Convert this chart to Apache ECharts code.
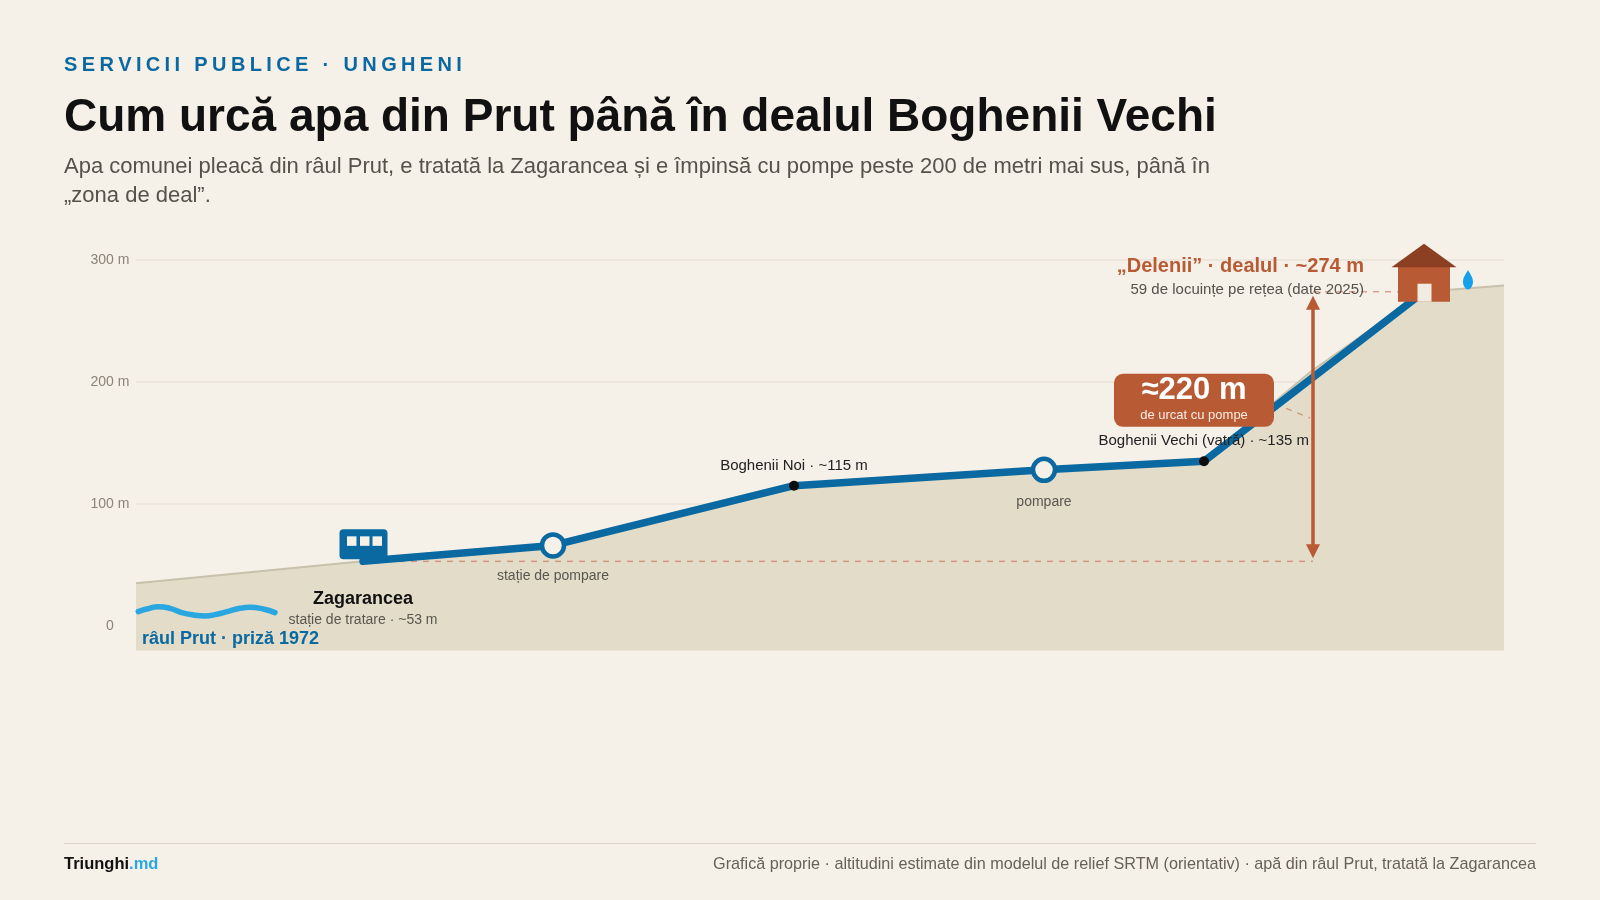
<!DOCTYPE html>
<html lang="ro"><head><meta charset="utf-8">
<style>html,body{margin:0;padding:0;background:#f5f0e8}#c{width:1600px;height:900px}</style>
<script src="https://cdn.jsdelivr.net/npm/echarts@6/dist/echarts.min.js"></script>
</head><body><div id="c"></div>
<script>
// distance along the profile (chart units) and altitude (m)
const terrainX   = [0, 227, 417, 658, 908, 1068, 1174, 1211, 1288, 1368];
const terrainAlt = [35, 53, 66, 115, 128, 135, 208, 229.5, 274, 279];
const pipeX      = [227, 417, 658, 908, 1068, 1288];
const pipeAlt    = [53, 66, 115, 128, 135, 274];
const pumpX      = [417, 908];
const pumpAlt    = [66, 128];
const villageX   = [658, 1068];
const villageAlt = [115, 135];
const riverX     = [2.3, 10.7, 22.3, 34, 45.7, 57.3, 69, 80.7, 92.3, 104, 114, 127.3, 139];
const riverAlt   = [11.8, 13.9, 15.8, 14.5, 11, 9, 8.2, 9.6, 12, 14.5, 15.3, 13.9, 11];
const climbX = 1177, baseAlt = 53, topAlt = 274;
const yTicks = [0, 100, 200, 300];

const KICKER = 'SERVICII PUBLICE · UNGHENI';
const TITLE = 'Cum urcă apa din Prut până în dealul Boghenii Vechi';
const SUB1 = 'Apa comunei pleacă din râul Prut, e tratată la Zagarancea și e împinsă cu pompe peste 200 de metri mai sus, până în';
const SUB2 = '„zona de deal”.';
const SOURCE = 'Grafică proprie · altitudini estimate din modelul de relief SRTM (orientativ) · apă din râul Prut, tratată la Zagarancea';

const FONT = '"Liberation Sans", Arial, sans-serif';
const BG='#f5f0e8', BLUE='#0a69a0', SKY='#2aa7e1', RUST='#b85a33', ROOF='#8c4023', LAND='#e2dcc9', LANDL='#c8c1ab';
const zip=(a,b)=>a.map((v,i)=>[v,b[i]]);
const chart = echarts.init(document.getElementById('c'));

const txt=(text,x,y,o)=>({type:'text',x,y,silent:true,style:Object.assign({text,fontFamily:FONT,verticalAlign:'middle'},o)});
function dashSeries(data){return {type:'line',data,symbol:'none',silent:true,z:2,animation:false,
  lineStyle:{color:'#c96a50',width:1.5,type:[6,6],opacity:.6}};}

function renderArrow(p,api){
  const a=api.coord([climbX,topAlt]), b=api.coord([climbX,baseAlt]);
  const x=a[0], t=a[1]+4, e=b[1]-3;
  return {type:'group',children:[
    {type:'line',shape:{x1:x,y1:t+8,x2:x,y2:e-8},style:{stroke:RUST,lineWidth:3.5}},
    {type:'polygon',shape:{points:[[x,t],[x-7,t+14],[x+7,t+14]]},style:{fill:RUST}},
    {type:'polygon',shape:{points:[[x,e],[x-7,e-14],[x+7,e-14]]},style:{fill:RUST}}
  ]};
}
function renderIcons(p,api){
  const s=api.coord([pipeX[0],pipeAlt[0]]), h=api.coord([pipeX[5],pipeAlt[5]]);
  const sx=s[0], sy=s[1], hx=h[0], hy=h[1];
  return {type:'group',children:[
    {type:'rect',shape:{x:sx-23.5,y:sy-32,width:48,height:30,r:4},style:{fill:BLUE}},
    {type:'rect',shape:{x:sx-16,y:sy-25,width:9.5,height:9.5},style:{fill:BG}},
    {type:'rect',shape:{x:sx-3,y:sy-25,width:9.5,height:9.5},style:{fill:BG}},
    {type:'rect',shape:{x:sx+9.5,y:sy-25,width:9.5,height:9.5},style:{fill:BG}},
    {type:'rect',shape:{x:hx-26,y:hy-25,width:52,height:35},style:{fill:RUST}},
    {type:'polygon',shape:{points:[[hx-32.5,hy-24.5],[hx,hy-48],[hx+32.5,hy-24.5]]},style:{fill:ROOF}},
    {type:'rect',shape:{x:hx-6.5,y:hy-8,width:14,height:18},style:{fill:'#f1ece1'}}
  ]};
}
function renderLabels(p,api){
  const at=(x,a,dx,dy)=>{const c=api.coord([x,a]);return [c[0]+dx,c[1]+dy];};
  const L=(text,pos,o)=>({type:'text',x:pos[0],y:pos[1],style:Object.assign({text,fontFamily:FONT,align:'center',verticalAlign:'middle'},o)});
  const box=at(1068,135,-10,-61);
  return {type:'group',children:[
    L('Boghenii Noi · ~115 m',at(658,115,0,-19.5),{fontSize:15,fill:'#222'}),
    L('pompare',at(908,128,0,32),{fontSize:14,fill:'#5a5650'}),
    L('stație de pompare',at(417,66,0,31),{fontSize:14,fill:'#5a5650'}),
    L('Zagarancea',at(227,53,0,37.5),{fontSize:18,fontWeight:'bold',fill:'#111'}),
    L('stație de tratare · ~53 m',at(227,53,0,59),{fontSize:14,fill:'#5a5650'}),
    L('râul Prut · priză 1972',at(0,0,6,13),{fontSize:18,fontWeight:'bold',fill:BLUE,align:'left'}),
    L('„Delenii” · dealul · ~274 m',at(1288,274,-60,-25),{fontSize:20,fontWeight:'bold',fill:RUST,align:'right'}),
    L('59 de locuințe pe rețea (date 2025)',at(1288,274,-60,-2),{fontSize:15,fill:'#55524b',align:'right'}),
    {type:'rect',shape:{x:box[0]-80,y:box[1]-26.5,width:160,height:53,r:9},style:{fill:RUST}},
    L('≈220 m',[box[0],box[1]-10],{fontSize:31,fontWeight:'bold',fill:'#fff'}),
    L('de urcat cu pompe',[box[0],box[1]+15],{fontSize:13,fill:'#f9ece4'}),
    L('Boghenii Vechi (vatră) · ~135 m',at(1068,135,105,-20),{fontSize:15,fill:'#222',align:'right'})
  ]};
}

chart.setOption({
  animation:false,
  backgroundColor:BG,
  grid:{left:136,right:96,top:260,bottom:152,containLabel:false},
  xAxis:{type:'value',min:0,max:1368,show:false},
  yAxis:{type:'value',min:-100,max:300,interval:100,
    axisLine:{show:false},axisTick:{show:false},
    axisLabel:{showMinLabel:false,margin:26,align:'center',color:'#8a8578',fontSize:14,fontFamily:FONT,padding:[3,0,0,0],
      formatter:v=>v===0?'0':(yTicks.includes(v)?v+' m':'')},
    splitLine:{showMinLine:false,lineStyle:{color:'#e8e3d8',width:1.5}}},
  series:[
    {type:'line',data:zip(terrainX,terrainAlt),symbol:'none',silent:true,z:1,
     lineStyle:{color:LANDL,width:2},areaStyle:{color:LAND,opacity:1,origin:-20}},
    dashSeries([[pipeX[0],baseAlt],[climbX,baseAlt]]),
    dashSeries([[climbX,topAlt],[1262,topAlt]]),
    dashSeries([[1139,182],[1174,170.5]]),
    {type:'line',data:zip(riverX,riverAlt),symbol:'none',smooth:.5,silent:true,z:3,
     lineStyle:{color:SKY,width:5.5,cap:'round'}},
    {type:'line',data:zip(pipeX,pipeAlt),symbol:'none',silent:true,z:3,
     lineStyle:{color:BLUE,width:7.5,cap:'round',join:'round'}},
    {type:'custom',coordinateSystem:'cartesian2d',data:[[0,0]],renderItem:renderIcons,silent:true,z:4},
    {type:'scatter',data:zip(pumpX,pumpAlt),symbol:'circle',symbolSize:22,silent:true,z:5,
     itemStyle:{color:BG,borderColor:BLUE,borderWidth:4.5,opacity:1}},
    {type:'scatter',data:zip(villageX,villageAlt),symbol:'circle',symbolSize:10,silent:true,z:5,
     itemStyle:{color:'#0e0e0e',opacity:1}},
    {type:'scatter',data:[[1332,283.9]],symbol:'path://M5 0C7 4 10 7 10 12C10 16 7 19.5 5 19.5C3 19.5 0 16 0 12C0 7 3 4 5 0Z',symbolSize:[10,19.5],silent:true,z:5,
     itemStyle:{color:'#14a0ea',opacity:1}},
    {type:'custom',coordinateSystem:'cartesian2d',data:[[0,0]],renderItem:renderLabels,silent:true,z:6},
    {type:'custom',coordinateSystem:'cartesian2d',data:[[0,0]],renderItem:renderArrow,silent:true,z:7}
  ],
  graphic:[
    {type:'text',x:64,y:65,silent:true,style:{
      text:[...KICKER].map(c=>'{k|'+c+'}').join(''),verticalAlign:'middle',
      rich:{k:{fontFamily:FONT,fontSize:20,fontWeight:'bold',fill:BLUE,padding:[0,4.36,0,0]}}}},
    txt(TITLE,64,118,{fontSize:46,fontWeight:'bold',fill:'#111'}),
    txt(SUB1,64,166.5,{fontSize:22,fill:'#55524b'}),
    txt(SUB2,64,196,{fontSize:22,fill:'#55524b'}),
    {type:'line',silent:true,shape:{x1:64,y1:843.5,x2:1536,y2:843.5},style:{stroke:'#d9d4c7',lineWidth:1}},
    {type:'text',x:64,y:864.5,silent:true,style:{
      text:'{a|Triunghi}{b|.md}',verticalAlign:'middle',
      rich:{a:{fontFamily:FONT,fontSize:16.5,fontWeight:'bold',fill:'#111'},b:{fontFamily:FONT,fontSize:16.5,fontWeight:'bold',fill:SKY}}}},
    txt(SOURCE,1536,864.5,{fontSize:16.2,fill:'#66625a',align:'right'})
  ]
});
</script></body></html>
